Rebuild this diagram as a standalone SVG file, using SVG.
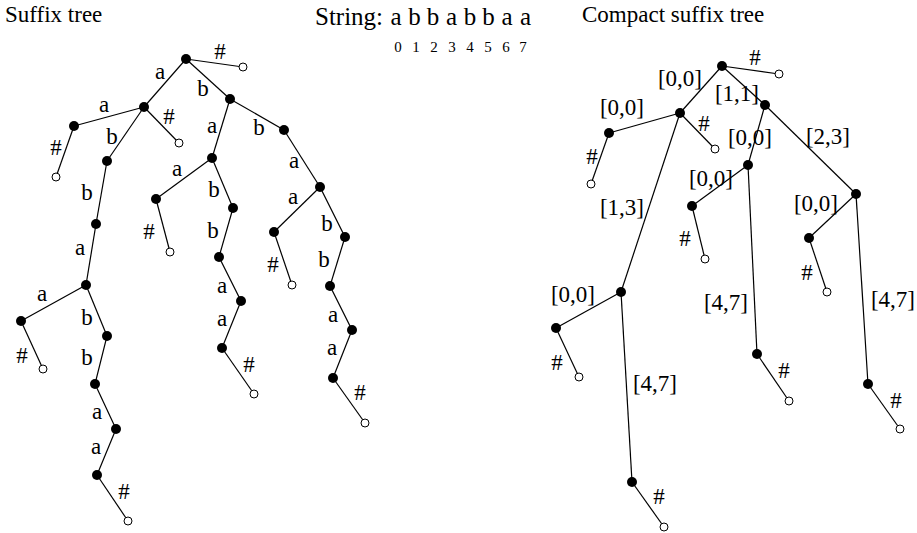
<svg xmlns="http://www.w3.org/2000/svg" width="917" height="533" viewBox="0 0 917 533">
<style>
text{font-family:"Liberation Serif","Times New Roman",serif;fill:#000}
.t{font-size:23px}
.s{font-size:25px;text-anchor:middle}
.l{font-size:23px;text-anchor:middle}
.d{font-size:15px;text-anchor:middle}
.e line{stroke:#000;stroke-width:1.2}
.n{fill:#000}
.o{fill:#fff;stroke:#000;stroke-width:1}
</style>
<rect width="917" height="533" fill="#fff"/>
<g id="titles">
<text class="t" x="5" y="22">Suffix tree</text>
<text x="315" y="25" style="font-size:25px">String:</text>
<text class="s" x="396" y="25">a</text>
<text class="s" x="414.5" y="25">b</text>
<text class="s" x="433" y="25">b</text>
<text class="s" x="451.5" y="25">a</text>
<text class="s" x="470" y="25">b</text>
<text class="s" x="488.5" y="25">b</text>
<text class="s" x="507" y="25">a</text>
<text class="s" x="525.5" y="25">a</text>
<text class="d" x="398" y="52">0</text>
<text class="d" x="416" y="52">1</text>
<text class="d" x="434" y="52">2</text>
<text class="d" x="452" y="52">3</text>
<text class="d" x="470" y="52">4</text>
<text class="d" x="488" y="52">5</text>
<text class="d" x="506" y="52">6</text>
<text class="d" x="523" y="52">7</text>
<text class="t" x="582" y="22">Compact suffix tree</text>
</g>
<g id="connectors" class="e">
<!-- left tree -->
<line x1="186" y1="59" x2="243" y2="67"/>
<line x1="186" y1="59" x2="144" y2="107"/>
<line x1="186" y1="59" x2="230" y2="99"/>
<line x1="144" y1="107" x2="74" y2="126"/>
<line x1="74" y1="126" x2="56" y2="177"/>
<line x1="144" y1="107" x2="179" y2="143"/>
<line x1="144" y1="107" x2="107" y2="161"/>
<line x1="107" y1="161" x2="96" y2="224"/>
<line x1="96" y1="224" x2="86" y2="285"/>
<line x1="86" y1="285" x2="21" y2="321"/>
<line x1="21" y1="321" x2="43" y2="369"/>
<line x1="86" y1="285" x2="107" y2="336"/>
<line x1="107" y1="336" x2="95" y2="384"/>
<line x1="95" y1="384" x2="116" y2="429"/>
<line x1="116" y1="429" x2="97" y2="475"/>
<line x1="97" y1="475" x2="128" y2="521"/>
<line x1="230" y1="99" x2="212" y2="158"/>
<line x1="212" y1="158" x2="156" y2="199"/>
<line x1="156" y1="199" x2="170" y2="252"/>
<line x1="212" y1="158" x2="233" y2="208"/>
<line x1="233" y1="208" x2="219" y2="257"/>
<line x1="219" y1="257" x2="241" y2="301"/>
<line x1="241" y1="301" x2="222" y2="348"/>
<line x1="222" y1="348" x2="254" y2="394"/>
<line x1="230" y1="99" x2="284" y2="130"/>
<line x1="284" y1="130" x2="320" y2="187"/>
<line x1="320" y1="187" x2="274" y2="232"/>
<line x1="274" y1="232" x2="292" y2="285"/>
<line x1="320" y1="187" x2="345" y2="237"/>
<line x1="345" y1="237" x2="330" y2="286"/>
<line x1="330" y1="286" x2="352" y2="330"/>
<line x1="352" y1="330" x2="333" y2="378"/>
<line x1="333" y1="378" x2="365" y2="423"/>
<!-- right tree -->
<line x1="722" y1="66" x2="779" y2="74"/>
<line x1="722" y1="66" x2="680" y2="113"/>
<line x1="722" y1="66" x2="765" y2="105"/>
<line x1="680" y1="113" x2="609" y2="133"/>
<line x1="609" y1="133" x2="591" y2="184"/>
<line x1="680" y1="113" x2="715" y2="149"/>
<line x1="680" y1="113" x2="621" y2="292"/>
<line x1="621" y1="292" x2="556" y2="328"/>
<line x1="556" y1="328" x2="579" y2="377"/>
<line x1="621" y1="292" x2="632" y2="482"/>
<line x1="632" y1="482" x2="664" y2="527"/>
<line x1="765" y1="105" x2="748" y2="165"/>
<line x1="748" y1="165" x2="692" y2="206"/>
<line x1="692" y1="206" x2="705" y2="259"/>
<line x1="748" y1="165" x2="757" y2="354"/>
<line x1="757" y1="354" x2="789" y2="401"/>
<line x1="765" y1="105" x2="856" y2="194"/>
<line x1="856" y1="194" x2="809" y2="238"/>
<line x1="809" y1="238" x2="827" y2="292"/>
<line x1="856" y1="194" x2="868" y2="384"/>
<line x1="868" y1="384" x2="900" y2="429"/>
</g>
<g id="edge-labels">
<text class="l" x="220" y="59">#</text>
<text class="l" x="160" y="79">a</text>
<text class="l" x="203" y="96">b</text>
<text class="l" x="104" y="112">a</text>
<text class="l" x="56" y="155">#</text>
<text class="l" x="169" y="124">#</text>
<text class="l" x="112" y="144">b</text>
<text class="l" x="87" y="200">b</text>
<text class="l" x="80" y="255">a</text>
<text class="l" x="42" y="301">a</text>
<text class="l" x="22" y="363">#</text>
<text class="l" x="87" y="325">b</text>
<text class="l" x="87" y="365">b</text>
<text class="l" x="97" y="419">a</text>
<text class="l" x="96" y="454">a</text>
<text class="l" x="124" y="499">#</text>
<text class="l" x="212" y="133">a</text>
<text class="l" x="259" y="135">b</text>
<text class="l" x="177" y="176">a</text>
<text class="l" x="149" y="239">#</text>
<text class="l" x="214" y="197">b</text>
<text class="l" x="213" y="238">b</text>
<text class="l" x="222" y="293">a</text>
<text class="l" x="222" y="326">a</text>
<text class="l" x="249" y="372">#</text>
<text class="l" x="294" y="168">a</text>
<text class="l" x="293" y="204">a</text>
<text class="l" x="273" y="272">#</text>
<text class="l" x="327" y="231">b</text>
<text class="l" x="324" y="267">b</text>
<text class="l" x="333" y="322">a</text>
<text class="l" x="332" y="355">a</text>
<text class="l" x="360" y="400">#</text>
<text class="l" x="755" y="65">#</text>
<text class="l" x="680" y="86">[0,0]</text>
<text class="l" x="737" y="101">[1,1]</text>
<text class="l" x="622" y="115">[0,0]</text>
<text class="l" x="592" y="164">#</text>
<text class="l" x="704" y="131">#</text>
<text class="l" x="622" y="215">[1,3]</text>
<text class="l" x="573" y="302">[0,0]</text>
<text class="l" x="557" y="370">#</text>
<text class="l" x="655" y="391">[4,7]</text>
<text class="l" x="659" y="504">#</text>
<text class="l" x="750" y="145">[0,0]</text>
<text class="l" x="711" y="186">[0,0]</text>
<text class="l" x="685" y="246">#</text>
<text class="l" x="726" y="310">[4,7]</text>
<text class="l" x="784" y="378">#</text>
<text class="l" x="828" y="144">[2,3]</text>
<text class="l" x="816" y="211">[0,0]</text>
<text class="l" x="807" y="280">#</text>
<text class="l" x="893" y="307">[4,7]</text>
<text class="l" x="896" y="408">#</text>
</g>
<g id="suffix-tree">
<circle id="s-root" class="n" cx="186" cy="59" r="5"/>
<circle id="s-root-end" class="o" cx="243" cy="67" r="4"/>
<circle id="s-a" class="n" cx="144" cy="107" r="5"/>
<circle id="s-b" class="n" cx="230" cy="99" r="5"/>
<circle id="s-aa" class="n" cx="74" cy="126" r="5"/>
<circle id="s-aa-end" class="o" cx="56" cy="177" r="4"/>
<circle id="s-a-end" class="o" cx="179" cy="143" r="4"/>
<circle id="s-ab" class="n" cx="107" cy="161" r="5"/>
<circle id="s-abb" class="n" cx="96" cy="224" r="5"/>
<circle id="s-abba" class="n" cx="86" cy="285" r="5"/>
<circle id="s-abbaa" class="n" cx="21" cy="321" r="5"/>
<circle id="s-abbaa-end" class="o" cx="43" cy="369" r="4"/>
<circle id="s-abbab" class="n" cx="107" cy="336" r="5"/>
<circle id="s-abbabb" class="n" cx="95" cy="384" r="5"/>
<circle id="s-abbabba" class="n" cx="116" cy="429" r="5"/>
<circle id="s-abbabbaa" class="n" cx="97" cy="475" r="5"/>
<circle id="s-abbabbaa-end" class="o" cx="128" cy="521" r="4"/>
<circle id="s-ba" class="n" cx="212" cy="158" r="5"/>
<circle id="s-baa" class="n" cx="156" cy="199" r="5"/>
<circle id="s-baa-end" class="o" cx="170" cy="252" r="4"/>
<circle id="s-bab" class="n" cx="233" cy="208" r="5"/>
<circle id="s-babb" class="n" cx="219" cy="257" r="5"/>
<circle id="s-babba" class="n" cx="241" cy="301" r="5"/>
<circle id="s-babbaa" class="n" cx="222" cy="348" r="5"/>
<circle id="s-babbaa-end" class="o" cx="254" cy="394" r="4"/>
<circle id="s-bb" class="n" cx="284" cy="130" r="5"/>
<circle id="s-bba" class="n" cx="320" cy="187" r="5"/>
<circle id="s-bbaa" class="n" cx="274" cy="232" r="5"/>
<circle id="s-bbaa-end" class="o" cx="292" cy="285" r="4"/>
<circle id="s-bbab" class="n" cx="345" cy="237" r="5"/>
<circle id="s-bbabb" class="n" cx="330" cy="286" r="5"/>
<circle id="s-bbabba" class="n" cx="352" cy="330" r="5"/>
<circle id="s-bbabbaa" class="n" cx="333" cy="378" r="5"/>
<circle id="s-bbabbaa-end" class="o" cx="365" cy="423" r="4"/>
</g>
<g id="compact-tree">
<circle id="c-root" class="n" cx="722" cy="66" r="5"/>
<circle id="c-root-end" class="o" cx="779" cy="74" r="4"/>
<circle id="c-a" class="n" cx="680" cy="113" r="5"/>
<circle id="c-b" class="n" cx="765" cy="105" r="5"/>
<circle id="c-aa" class="n" cx="609" cy="133" r="5"/>
<circle id="c-aa-end" class="o" cx="591" cy="184" r="4"/>
<circle id="c-a-end" class="o" cx="715" cy="149" r="4"/>
<circle id="c-abba" class="n" cx="621" cy="292" r="5"/>
<circle id="c-abbaa" class="n" cx="556" cy="328" r="5"/>
<circle id="c-abbaa-end" class="o" cx="579" cy="377" r="4"/>
<circle id="c-abbabbaa" class="n" cx="632" cy="482" r="5"/>
<circle id="c-abbabbaa-end" class="o" cx="664" cy="527" r="4"/>
<circle id="c-ba" class="n" cx="748" cy="165" r="5"/>
<circle id="c-baa" class="n" cx="692" cy="206" r="5"/>
<circle id="c-baa-end" class="o" cx="705" cy="259" r="4"/>
<circle id="c-babbaa" class="n" cx="757" cy="354" r="5"/>
<circle id="c-babbaa-end" class="o" cx="789" cy="401" r="4"/>
<circle id="c-bba" class="n" cx="856" cy="194" r="5"/>
<circle id="c-bbaa" class="n" cx="809" cy="238" r="5"/>
<circle id="c-bbaa-end" class="o" cx="827" cy="292" r="4"/>
<circle id="c-bbabbaa" class="n" cx="868" cy="384" r="5"/>
<circle id="c-bbabbaa-end" class="o" cx="900" cy="429" r="4"/>
</g>
</svg>
